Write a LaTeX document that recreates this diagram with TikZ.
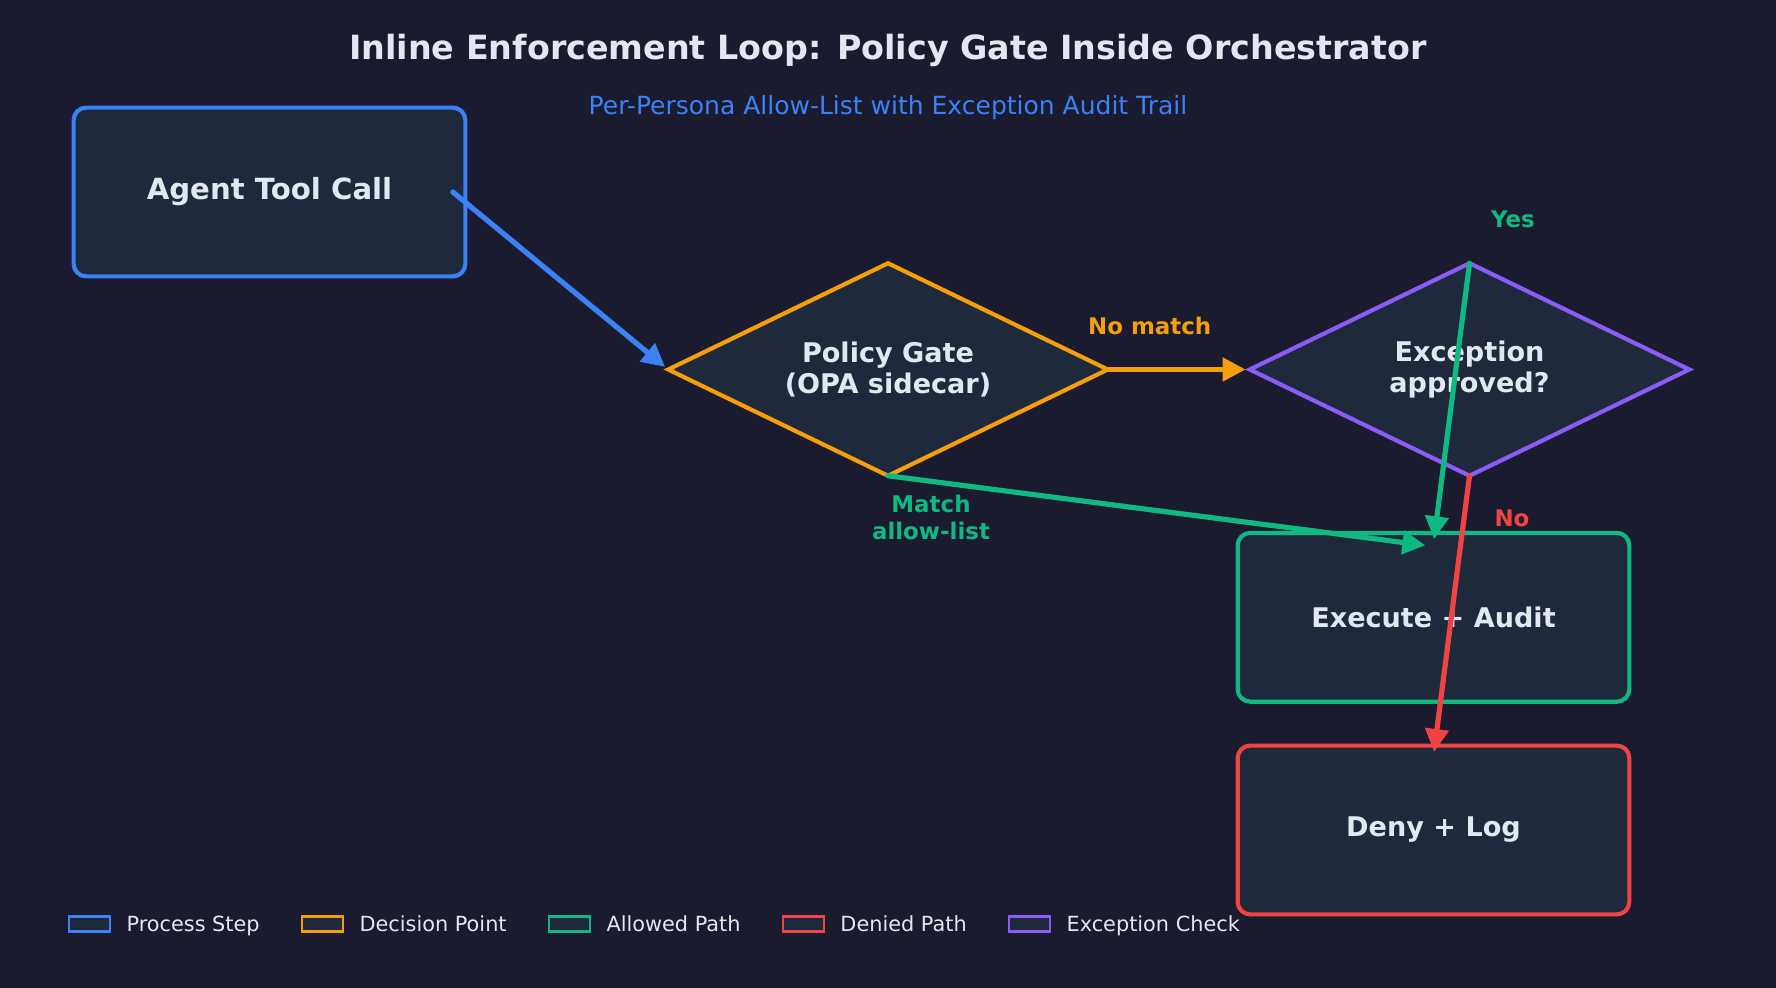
\documentclass[tikz,border=0pt]{standalone}
\usepackage{fontspec}
\setmainfont{DejaVu Sans}
\usepackage{xcolor}
\usepackage{tikz}
\usetikzlibrary{calc,positioning,shapes.geometric,arrows.meta}
\definecolor{bg}{HTML}{1A1B2E}
\definecolor{panel}{HTML}{1E293B}
\definecolor{ink}{HTML}{E2E8F0}
\definecolor{azure}{HTML}{3B82F6}
\definecolor{amber}{HTML}{F59E0B}
\definecolor{emerald}{HTML}{10B981}
\definecolor{crimson}{HTML}{EF4444}
\definecolor{iris}{HTML}{8B5CF6}
\tikzset{
  stepbox/.style={draw, fill=panel, line width=2pt, rounded corners=6pt, minimum width=188pt, minimum height=81pt, inner sep=0pt, outer sep=0pt, text=ink, font=\bfseries\fontsize{13}{15.6}\selectfont},
  gatebox/.style={diamond, aspect=2.07, draw, fill=panel, line width=2pt, minimum width=211pt, minimum height=102pt, inner sep=0pt, outer sep=0pt, text=ink, align=center, font=\bfseries\fontsize{13}{15}\selectfont},
  flow/.style={line width=2.5pt, line cap=round, -{Triangle[length=11pt,width=11pt]}, shorten >=2pt},
  elab/.style={font=\bfseries\fontsize{11}{13}\selectfont, align=center, inner sep=0pt},
  legbox/.style={draw, fill=panel, line width=1.2pt, minimum width=19.6pt, minimum height=7pt, inner sep=0pt, outer sep=0pt},
  legtxt/.style={text=ink, font=\fontsize{10}{12}\selectfont, inner sep=0pt, outer sep=0pt, text height=0.99em, text depth=0.24em}
}

\begin{document}
\begin{tikzpicture}[x=0.48pt, y=-0.48pt]
  \fill[bg] (0,0) rectangle (1776,988);
  \useasboundingbox (0,0) rectangle (1776,988);
  \node[text=ink, font=\bfseries\fontsize{16}{19}\selectfont] (title) at (888,50.8) {Inline Enforcement Loop: Policy Gate Inside Orchestrator};
  \node[text=azure, font=\fontsize{12}{14}\selectfont] (subtitle) at (888,107.3) {Per-Persona Allow-List with Exception Audit Trail};
  \node[stepbox, draw=azure, font=\bfseries\fontsize{14}{17}\selectfont] (agent) at (269.5,192) {Agent Tool Call};
  \node[gatebox, draw=amber] (gate) at (888,369.5) {Policy Gate\\(OPA sidecar)};
  \node[gatebox, draw=iris] (exc) at (1469.5,369.5) {Exception\\approved?};
  \node[stepbox, draw=emerald] (exec) at (1433.5,617.3) {Execute + Audit};
  \node[stepbox, draw=crimson] (deny) at (1433.5,830) {Deny + Log};
  \coordinate (allowin) at ($(exec.north)+(-4,13)$);
  \draw[flow, azure] ([xshift=-6pt]agent.east) -- (gate.west);
  \draw[flow, amber] (gate.east) -- (exc.west);
  \draw[flow, emerald] (gate.south) -- (allowin);
  \draw[flow, emerald] (exc.north) -- ([yshift=-5pt]exec.north);
  \draw[flow, crimson] (exc.south) -- ([yshift=-5pt]deny.north);
  \node[elab, text=amber] (nomatch) at (1149.7,326) {No match};
  \node[elab, text=emerald] (match) at (931,517.6) {Match\\allow-list};
  \node[elab, text=emerald] (yes) at (1513,219.7) {Yes};
  \node[elab, text=crimson] (no) at (1512,518.8) {No};
  \node[legbox, draw=azure] (lb1) at (89.5,924) {};
  \node[legtxt, right=8pt of lb1] (lt1) {Process Step};
  \node[legbox, draw=amber, right=20.35pt of lt1] (lb2) {};
  \node[legtxt, right=8pt of lb2] (lt2) {Decision Point};
  \node[legbox, draw=emerald, right=20.35pt of lt2] (lb3) {};
  \node[legtxt, right=8pt of lb3] (lt3) {Allowed Path};
  \node[legbox, draw=crimson, right=20.35pt of lt3] (lb4) {};
  \node[legtxt, right=8pt of lb4] (lt4) {Denied Path};
  \node[legbox, draw=iris, right=20.35pt of lt4] (lb5) {};
  \node[legtxt, right=8pt of lb5] (lt5) {Exception Check};
\end{tikzpicture}
\end{document}
